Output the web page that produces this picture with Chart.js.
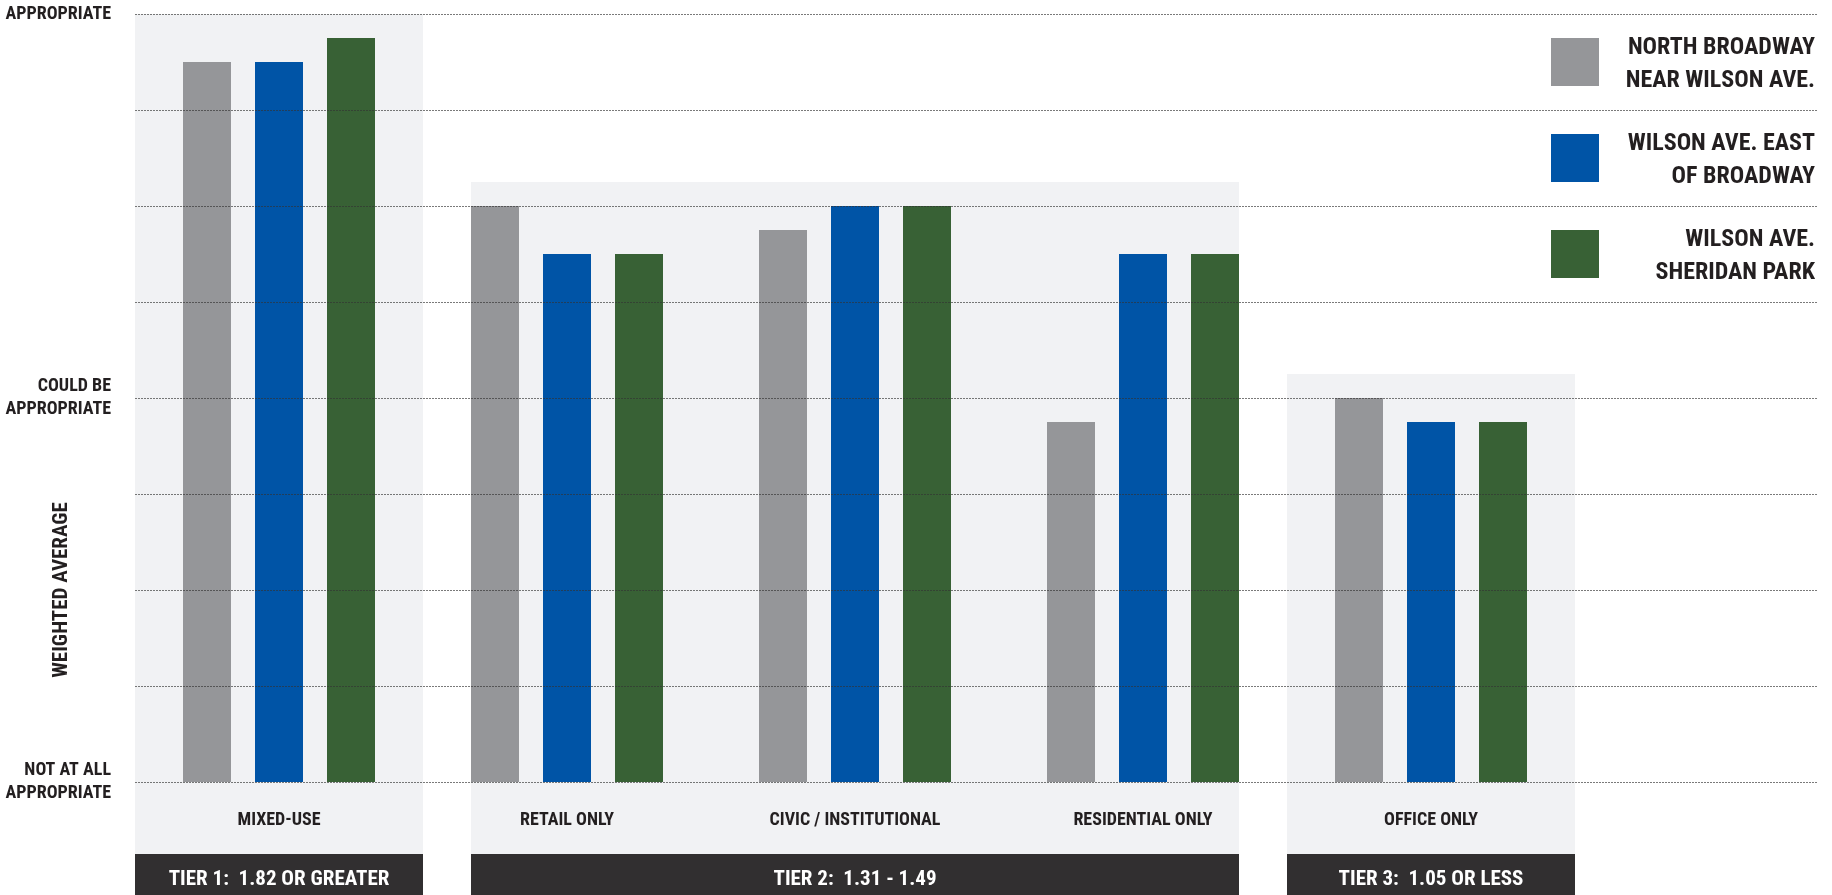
<!DOCTYPE html>
<html>
<head>
<meta charset="utf-8">
<script src="https://cdn.jsdelivr.net/npm/chart.js@4.4.1/dist/chart.umd.min.js"></script>
<style>
  html, body { margin: 0; padding: 0; background: #fff; }
  #wrap { position: relative; width: 1832px; height: 895px; }
</style>
</head>
<body>
<div id="wrap"><canvas id="chart"></canvas></div>
<script>
const categories = ["MIXED-USE", "RETAIL ONLY", "CIVIC / INSTITUTIONAL", "RESIDENTIAL ONLY", "OFFICE ONLY"];
const seriesNames = [
  ["NORTH BROADWAY", "NEAR WILSON AVE."],
  ["WILSON AVE. EAST", "OF BROADWAY"],
  ["WILSON AVE.", "SHERIDAN PARK"]
];
const northBroadway = [1.875, 1.5, 1.4375, 0.9375, 1.0];
const wilsonEast = [1.875, 1.375, 1.5, 1.375, 0.9375];
const sheridanPark = [1.9375, 1.375, 1.5, 1.375, 0.9375];
const seriesColors = ["#959699", "#0054a6", "#386135"];

const yTickLabels = {
  0: ["NOT AT ALL", "APPROPRIATE"],
  1: ["COULD BE", "APPROPRIATE"],
  2: "APPROPRIATE"
};

const tierLabels = ["TIER 1:  1.82 OR GREATER", "TIER 2:  1.31 - 1.49", "TIER 3:  1.05 OR LESS"];
const tierFirst = [0, 1, 4];
const tierLast = [0, 3, 4];
const tierTop = [2, 1.5625, 1.0625];

const TEXT = "#231f20";

// the original uses a condensed gothic, pick the closest one that is installed
function pickFont() {
  const c = document.createElement("canvas").getContext("2d");
  const sample = "MIXED-USE";
  const target = 86 / 18;
  const candidates = [
    { weight: "bold", family: '"Roboto Condensed"' },
    { weight: "bold", family: '"Liberation Sans Narrow"' },
    { weight: "bold", family: '"DejaVu Sans Condensed"' },
    { weight: "bold", family: '"Noto Sans Condensed"' },
    { weight: "bold", family: '"Open Sans Condensed"' },
    { weight: "bold condensed", family: '"Noto Sans"' },
    { weight: "bold condensed", family: '"Open Sans"' },
    { weight: "bold condensed", family: '"DejaVu Sans"' },
    { weight: "bold", family: "Roboto" }
  ];
  const width = (f) => { c.font = f; return c.measureText(sample).width; };
  let best = candidates[candidates.length - 1];
  let bestDiff = Infinity;
  candidates.forEach((cand) => {
    const mono = width("bold 100px monospace");
    const serif = width("bold 100px serif");
    const a = width(`${cand.weight} 100px ${cand.family}, monospace`);
    const b = width(`${cand.weight} 100px ${cand.family}, serif`);
    if (a === mono && b === serif) return;
    const diff = Math.abs(a / 100 - target);
    if (diff < bestDiff) { bestDiff = diff; best = cand; }
  });
  return best;
}

const pick = pickFont();
const FAMILY = pick.family + ", sans-serif";
const WEIGHT = pick.weight;
const font = (size) => `${WEIGHT} ${size}px ${FAMILY}`;

// bands, tier boxes, dotted grid, legend and axis title
const decor = {
  id: "decor",
  beforeDraw(chart) {
    const { ctx, chartArea, scales: { x, y } } = chart;
    const step = x.getPixelForValue(1) - x.getPixelForValue(0);
    const boxTop = chartArea.bottom + 72;
    ctx.save();
    tierLabels.forEach((label, i) => {
      let left = x.getPixelForValue(tierFirst[i]) - step / 2;
      let right = x.getPixelForValue(tierLast[i]) + step / 2;
      if (tierLast[i] > tierFirst[i]) {
        left += step / 6;
        right -= step / 6;
      }
      const top = y.getPixelForValue(tierTop[i]);
      ctx.fillStyle = "#f1f2f4";
      ctx.fillRect(left, top, right - left, boxTop - top);
      ctx.fillStyle = "#312f30";
      ctx.fillRect(left, boxTop, right - left, chart.height - boxTop);
      ctx.fillStyle = "#ffffff";
      ctx.font = font(21);
      ctx.textAlign = "center";
      ctx.textBaseline = "middle";
      ctx.fillText(label, (left + right) / 2, boxTop + 26);
    });
    ctx.restore();
  },
  afterDatasetsDraw(chart) {
    const { ctx, chartArea, scales: { y } } = chart;
    ctx.save();
    ctx.strokeStyle = "rgba(50, 50, 50, 0.65)";
    ctx.lineWidth = 1;
    ctx.setLineDash([2, 1]);
    y.ticks.forEach((t) => {
      const py = Math.round(y.getPixelForValue(t.value)) + 0.5;
      ctx.beginPath();
      ctx.moveTo(chartArea.left, py);
      ctx.lineTo(chart.width - 15, py);
      ctx.stroke();
    });
    ctx.restore();
  },
  afterDraw(chart) {
    const { ctx, chartArea, scales: { y } } = chart;
    ctx.save();

    // legend
    seriesNames.forEach((lines, i) => {
      const cy = y.getPixelForValue(2 - 0.25 * (i + 0.5));
      ctx.fillStyle = seriesColors[i];
      ctx.fillRect(chart.width - 281, cy - 24, 48, 48);
      ctx.fillStyle = TEXT;
      ctx.font = font(24);
      ctx.textAlign = "right";
      ctx.textBaseline = "middle";
      ctx.fillText(lines[0], chart.width - 17, cy - 14);
      ctx.fillText(lines[1], chart.width - 17, cy + 19);
    });

    // axis title
    ctx.fillStyle = TEXT;
    ctx.translate(62, chartArea.bottom - 192);
    ctx.rotate(-Math.PI / 2);
    ctx.font = font(21);
    ctx.textAlign = "center";
    ctx.textBaseline = "middle";
    ctx.fillText("WEIGHTED AVERAGE", 0, 0);
    ctx.restore();
  }
};

new Chart(document.getElementById("chart"), {
  type: "bar",
  data: {
    labels: categories,
    datasets: [
      { label: seriesNames[0].join(" "), data: northBroadway, backgroundColor: seriesColors[0] },
      { label: seriesNames[1].join(" "), data: wilsonEast, backgroundColor: seriesColors[1] },
      { label: seriesNames[2].join(" "), data: sheridanPark, backgroundColor: seriesColors[2] }
    ]
  },
  options: {
    responsive: true,
    maintainAspectRatio: false,
    animation: false,
    categoryPercentage: 0.75,
    barPercentage: 2 / 3,
    layout: { padding: { top: 14, right: 257, left: 0, bottom: 0 } },
    plugins: {
      legend: { display: false },
      tooltip: { enabled: false }
    },
    scales: {
      x: {
        grid: { display: false },
        border: { display: false },
        ticks: {
          color: TEXT,
          font: { family: FAMILY, size: 18, weight: WEIGHT },
          padding: 20,
          maxRotation: 0,
          autoSkip: false
        },
        afterFit: (scale) => {
          scale.height = 113;
          scale.paddingLeft = 0;
          scale.paddingRight = 0;
        }
      },
      y: {
        min: 0,
        max: 2,
        grid: { display: false },
        border: { display: false },
        ticks: {
          stepSize: 0.25,
          autoSkip: false,
          color: TEXT,
          font: { family: FAMILY, size: 18, weight: WEIGHT, lineHeight: 1.25 },
          padding: 16,
          callback: (value) => yTickLabels[value] || ""
        },
        afterFit: (scale) => {
          scale.width = 135;
          scale.paddingTop = 0;
          scale.paddingBottom = 0;
        }
      }
    }
  },
  plugins: [decor]
});
</script>
</body>
</html>
